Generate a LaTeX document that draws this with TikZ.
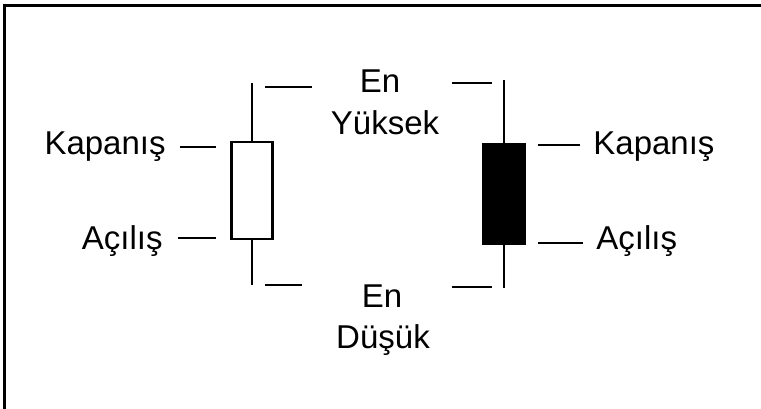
\documentclass[tikz,border=0pt]{standalone}
\usepackage{fontspec}
\setmainfont{Liberation Sans}
\usetikzlibrary{positioning}

\begin{document}
\begin{tikzpicture}[x=1pt, y=-1pt, line width=2.8pt,
    lbl/.style={font=\fontsize{33}{38}\selectfont, inner sep=0pt, anchor=base},
    body/.style={draw, rectangle, inner sep=0pt, line width=2.8pt}]
    \useasboundingbox (0,0) rectangle (761,409);
    % Cadre
    \draw[line width=3pt] (4,409) -- (4,6) -- (761,6);

    % Mum beyaz
    \node[body, fill=white, minimum width=41pt, minimum height=97pt] (wbody) at (252,190.5) {};
    \coordinate (whigh) at (252,83);
    \coordinate (wlow) at (252,285);
    \draw (wbody.north) -- (whigh);
    \draw (wbody.south) -- (wlow);

    % Mum siyah
    \node[body, fill=black, minimum width=42pt, minimum height=100pt] (bbody) at (504,194) {};
    \coordinate (bhigh) at (504,80);
    \coordinate (blow) at (504,288);
    \draw (bbody.north) -- (bhigh);
    \draw (bbody.south) -- (blow);

    % Etiketler
    \node[lbl, anchor=base east] (wclose) at (167,155) {Kapanış};
    \node[lbl, anchor=base east] (wopen) at (164,249) {Açılış};
    \node[lbl, anchor=base west] (bclose) at (592,155) {Kapanış};
    \node[lbl, anchor=base west] (bopen) at (595,250) {Açılış};
    \node[lbl] (hi1) at (380,93) {En};
    \node[lbl] (hi2) at (385,135) {Yüksek};
    \node[lbl] (lo1) at (382,307) {En};
    \node[lbl] (lo2) at (383,348) {Düşük};

    % Çizgiler
    \coordinate (wclosetip) at (216,147);
    \coordinate (wopentip) at (216,238);
    \draw (wclosetip) -- ++(-36,0);
    \draw (wopentip) -- ++(-38,0);
    \coordinate (bclosetip) at (538,145);
    \coordinate (bopentip) at (538,243);
    \draw (bclosetip) -- ++(42,0);
    \draw (bopentip) -- ++(45,0);
    \draw ([xshift=13pt]whigh |- 0,87) -- ++(47,0);
    \draw ([xshift=13pt]wlow) -- ++(37,0);
    \draw ([xshift=-12pt]bhigh |- 0,83) -- ++(-40,0);
    \draw ([xshift=-12pt]blow |- 0,287) -- ++(-40,0);
\end{tikzpicture}
\end{document}
